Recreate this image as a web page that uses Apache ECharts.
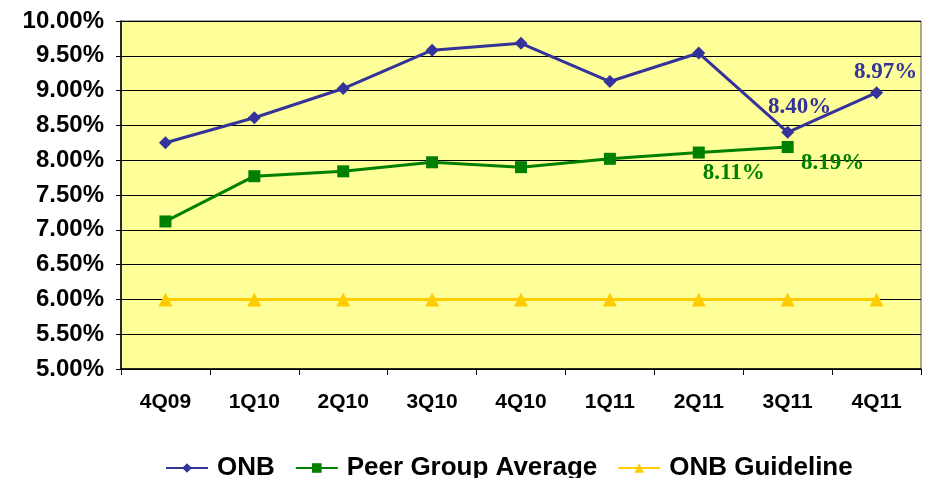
<!DOCTYPE html>
<html>
<head>
<meta charset="UTF-8">
<script src="https://cdn.jsdelivr.net/npm/echarts@6/dist/echarts.min.js"></script>
<style>
  html, body { margin: 0; padding: 0; background: #fff; }
  #main { width: 931px; height: 478px; }
</style>
</head>
<body>
<div id="main"></div>
<script>
var quarters = ['4Q09', '1Q10', '2Q10', '3Q10', '4Q10', '1Q11', '2Q11', '3Q11', '4Q11'];
var onb = [8.25, 8.61, 9.03, 9.58, 9.68, 9.13, 9.54, 8.40, 8.97];
var peerAvg = [7.12, 7.77, 7.84, 7.97, 7.90, 8.02, 8.11, 8.19, null];
var guideline = [6.00, 6.00, 6.00, 6.00, 6.00, 6.00, 6.00, 6.00, 6.00];

var labelFont = {
    fontFamily: 'Liberation Serif',
    fontWeight: 'bold',
    fontSize: 23
};

// only a few points carry a value label
function withLabels(values, labels) {
    return values.map(function (v, i) {
        if (labels[i]) {
            return { value: v, label: Object.assign({ show: true, formatter: function (p) { return p.value.toFixed(2) + '%'; } }, labelFont, labels[i]) };
        }
        return v;
    });
}

var chart = echarts.init(document.getElementById('main'));
chart.setOption({
    animation: false,
    backgroundColor: '#fff',
    grid: {
        left: 121,
        right: 10,
        top: 21,
        bottom: 109,
        show: true,
        backgroundColor: '#FFFF99',
        borderColor: '#555',
        borderWidth: 1
    },
    legend: {
        top: 450,
        left: 160,
        itemWidth: 42,
        itemHeight: 12,
        itemGap: 20,
        textStyle: {
            fontFamily: 'Liberation Sans',
            fontWeight: 'bold',
            fontSize: 26,
            color: '#000',
            padding: [0, 0, 0, 4]
        },
        data: ['ONB', 'Peer Group Average', 'ONB Guideline']
    },
    xAxis: {
        type: 'category',
        data: quarters,
        boundaryGap: true,
        axisLine: { lineStyle: { color: '#000', width: 1.5 } },
        axisTick: { show: true, length: 6, lineStyle: { color: '#000' } },
        axisLabel: {
            margin: 23,
            fontFamily: 'Liberation Sans',
            fontWeight: 'bold',
            fontSize: 21,
            color: '#000'
        }
    },
    yAxis: {
        type: 'value',
        min: 5,
        max: 10,
        interval: 0.5,
        axisLine: { show: true, lineStyle: { color: '#000', width: 1.5 } },
        axisTick: { show: true, length: 5, lineStyle: { color: '#000' } },
        splitLine: { lineStyle: { color: '#000', width: 1 } },
        axisLabel: {
            margin: 17,
            fontFamily: 'Liberation Sans',
            fontWeight: 'bold',
            fontSize: 24,
            color: '#000',
            formatter: function (v) { return v.toFixed(2) + '%'; }
        }
    },
    series: [
        {
            name: 'ONB',
            type: 'line',
            data: withLabels(onb, {
                7: { position: 'top', offset: [12, -2], color: '#333399' },
                8: { position: 'top', offset: [9, 2], color: '#333399' }
            }),
            symbol: 'diamond',
            symbolSize: 13,
            lineStyle: { color: '#333399', width: 3 },
            itemStyle: { color: '#333399' },
            z: 4
        },
        {
            name: 'Peer Group Average',
            type: 'line',
            data: withLabels(peerAvg, {
                6: { position: 'bottom', offset: [35, -2], color: '#008000' },
                7: { position: 'bottom', offset: [45, -6], color: '#008000' }
            }),
            symbol: 'rect',
            symbolSize: 12,
            lineStyle: { color: '#008000', width: 3 },
            itemStyle: { color: '#008000' },
            z: 3
        },
        {
            name: 'ONB Guideline',
            type: 'line',
            data: guideline,
            symbol: 'triangle',
            symbolSize: 14,
            lineStyle: { color: '#FFCC00', width: 3 },
            itemStyle: { color: '#FFCC00' },
            z: 2
        }
    ]
});
</script>
</body>
</html>
